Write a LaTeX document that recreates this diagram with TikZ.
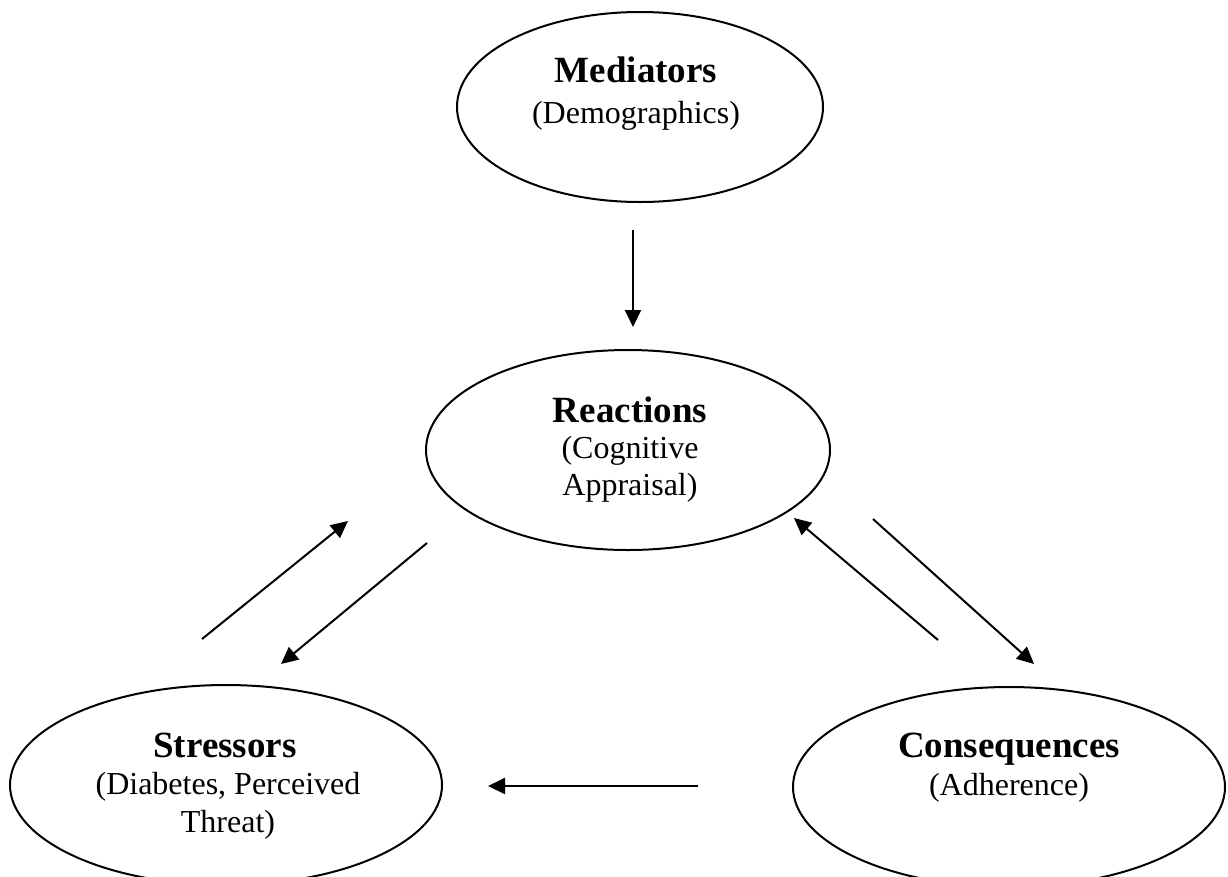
\documentclass[tikz,border=0pt]{standalone}
\usepackage{fontspec}
\setmainfont{Liberation Serif}
\usetikzlibrary{shapes.geometric,arrows.meta}
\begin{document}
\begin{tikzpicture}[x=1pt,y=-1pt,
  oval/.style={draw=black, line width=2pt, ellipse, inner sep=0pt},
  head/.style={font=\fontsize{37}{40}\selectfont\bfseries, anchor=base, inner sep=0pt},
  sub/.style={font=\fontsize{32}{36}\selectfont, anchor=base, inner sep=0pt},
  conn/.style={line width=2pt, -{Triangle[length=17pt,width=16pt]}}]
\useasboundingbox (0,0) rectangle (1228,876);
\clip (0,0) rectangle (1228,876);
% ellipses
\node[oval, minimum width=366pt, minimum height=190pt] (med) at (640,107) {};
\node[oval, minimum width=404pt, minimum height=200pt] (rea) at (628,450) {};
\node[oval, minimum width=432pt, minimum height=200pt] (str) at (226,785) {};
\node[oval, minimum width=432pt, minimum height=200pt] (con) at (1009,787) {};
% texts
\node[head] (medA) at (636,82) {Mediators};
\node[sub]  (medB) at (636,123) {(Demographics)};
\node[head] (reaA) at (630,422) {Reactions};
\node[sub]  (reaB) at (630,458) {(Cognitive};
\node[sub]  (reaC) at (630,495) {Appraisal)};
\node[head] (strA) at (225,757) {Stressors};
\node[sub]  (strB) at (228,794) {(Diabetes, Perceived};
\node[sub]  (strC) at (228,832) {Threat)};
\node[head] (conA) at (1009,757) {Consequences};
\node[sub]  (conB) at (1009,795) {(Adherence)};
% connector ends
\coordinate (m1) at (633,230);  \coordinate (m2) at (633,327);
\coordinate (sr1) at (202,639); \coordinate (sr2) at (348,521);
\coordinate (rs1) at (427,543); \coordinate (rs2) at (281,664);
\coordinate (cr1) at (938,640); \coordinate (cr2) at (794,518);
\coordinate (rc1) at (873,519); \coordinate (rc2) at (1034,664);
\coordinate (cs1) at (698,786); \coordinate (cs2) at (488,786);
\draw[conn] (m1) -- (m2);
\draw[conn] (sr1) -- (sr2);
\draw[conn] (rs1) -- (rs2);
\draw[conn] (cr1) -- (cr2);
\draw[conn] (rc1) -- (rc2);
\draw[conn] (cs1) -- (cs2);
\end{tikzpicture}
\end{document}
